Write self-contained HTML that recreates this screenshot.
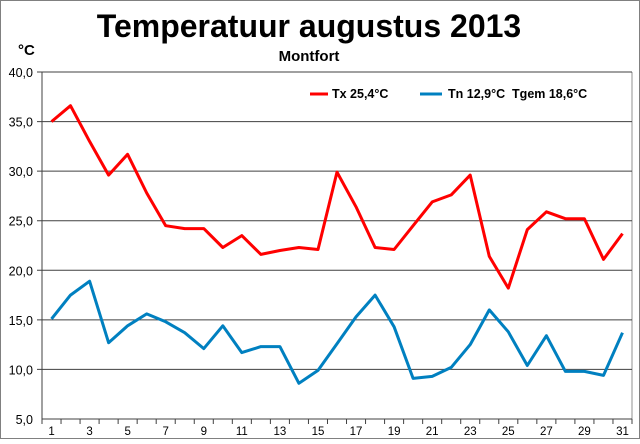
<!DOCTYPE html>
<html><head><meta charset="utf-8"><style>
body{margin:0;width:640px;height:439px;overflow:hidden;background:#fff}
</style></head><body>
<svg id="s" width="640" height="439" xmlns="http://www.w3.org/2000/svg" font-family="Liberation Sans, Arial, sans-serif">
<rect x="0.5" y="0.5" width="639" height="438" fill="#fff" stroke="#808080"/>
<text x="309" y="37" font-size="32" font-weight="bold" text-anchor="middle">Temperatuur augustus 2013</text>
<text x="309" y="61" font-size="15" font-weight="bold" text-anchor="middle">Montfort</text>
<text x="18" y="55" font-size="15" font-weight="bold">°C</text>
<line x1="632" y1="72" x2="632" y2="419" stroke="#c8c8c8" stroke-width="2"/>
<g id="g"></g>
<text x="332" y="98" font-size="12.5" font-weight="bold">Tx 25,4°C</text>
<line x1="310" y1="94" x2="328" y2="94" stroke="#ff0000" stroke-width="3"/>
<line x1="420" y1="94" x2="442" y2="94" stroke="#0080c0" stroke-width="3"/>
<text x="448" y="98" font-size="12.5" font-weight="bold">Tn 12,9°C&#160;&#160;Tgem 18,6°C</text>
</svg>
<script>
var g=document.getElementById('g'),h='';
function Y(v){return 72+(40-v)*347/35;}
var L=42,R=632,st=(R-L)/31;
for(var v=5;v<=40;v+=5){var y=Y(v);h+='<line x1="'+(v==5?42:37)+'" y1="'+y+'" x2="632" y2="'+y+'" stroke="#404040" stroke-width="1"/>';
h+='<text x="33" y="'+(y+5)+'" font-size="12.5" text-anchor="end">'+v.toFixed(1).replace('.',',')+'</text>';}
h+='<line x1="42" y1="72" x2="42" y2="419" stroke="#404040"/>';
for(var i=0;i<=31;i++){var x=L+i*st;h+='<line x1="'+x+'" y1="419" x2="'+x+'" y2="424" stroke="#404040"/>';}
for(var d=1;d<=31;d+=2){h+='<text x="'+(L+(d-0.5)*st)+'" y="435" font-size="11.5" text-anchor="middle">'+d+'</text>';}
var tx=[35.0,36.6,33,29.6,31.7,27.8,24.5,24.2,24.2,22.3,23.5,21.6,22.0,22.3,22.1,29.9,26.4,22.3,22.1,24.5,26.9,27.6,29.6,21.4,18.2,24.1,25.9,25.2,25.2,21.1,23.7];
var tn=[15.1,17.5,18.9,12.7,14.4,15.6,14.8,13.7,12.1,14.4,11.7,12.3,12.3,8.6,9.9,12.6,15.3,17.5,14.3,9.1,9.3,10.2,12.5,16.0,13.8,10.4,13.4,9.8,9.8,9.4,13.7];
function pl(a,c){return '<polyline fill="none" stroke="'+c+'" stroke-width="3" stroke-linejoin="round" points="'+a.map(function(v,i){return (L+(i+0.5)*st).toFixed(1)+','+Y(v).toFixed(1)}).join(' ')+'"/>';}
h+=pl(tx,'#ff0000')+pl(tn,'#0080c0');
g.innerHTML=h;
</script>
</body></html>
